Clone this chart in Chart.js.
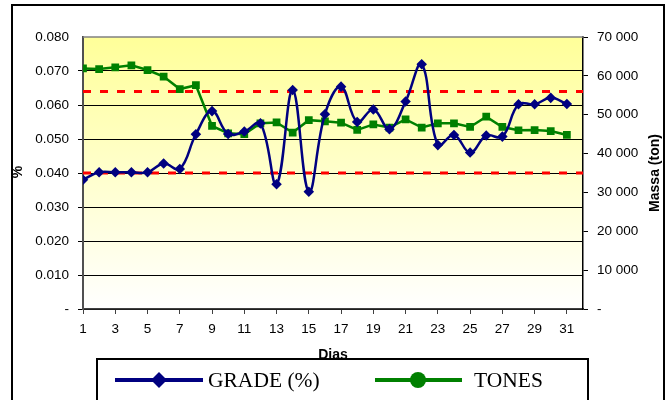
<!DOCTYPE html>
<html>
<head>
<meta charset="utf-8">
<script src="https://cdn.jsdelivr.net/npm/chart.js@4.4.1/dist/chart.umd.min.js"></script>
<style>
  html, body { margin: 0; padding: 0; background: #fff; }
  #wrap { width: 670px; height: 400px; }
</style>
</head>
<body>
<div id="wrap"><canvas id="chart" width="670" height="400"></canvas></div>
<script>
// Days of the month
const days = [1, 2, 3, 4, 5, 6, 7, 8, 9, 10, 11, 12, 13, 14, 15, 16,
              17, 18, 19, 20, 21, 22, 23, 24, 25, 26, 27, 28, 29, 30, 31];

// GRADE (%) - left axis
const grade = [0.0380, 0.0402, 0.0402, 0.0402, 0.0402, 0.0428, 0.0412, 0.0514,
               0.0582, 0.0515, 0.0522, 0.0546, 0.0367, 0.0644, 0.0345, 0.0573,
               0.0654, 0.0550, 0.0587, 0.0529, 0.0610, 0.0720, 0.0482, 0.0512,
               0.0460, 0.0510, 0.0507, 0.0602, 0.0602, 0.0621, 0.0603];

// TONES - right axis (ton)
const tones = [61900, 61750, 62200, 62700, 61500, 59800, 56600, 57600,
               47100, 45200, 45000, 47800, 48000, 45400, 48600, 48300,
               47950, 46100, 47500, 46700, 48800, 46700, 47800, 47800,
               46850, 49500, 46850, 46000, 46050, 45800, 44800];

// Control limits (%)
const limitHigh = 0.064;
const limitLow = 0.040;

const leftTicks = [0, 0.01, 0.02, 0.03, 0.04, 0.05, 0.06, 0.07, 0.08];
const rightTicks = [0, 10000, 20000, 30000, 40000, 50000, 60000, 70000];

const tickFont = { family: 'Liberation Sans, Arial, sans-serif', size: 13.5 };

function toPoints(xs, ys) {
    return xs.map((x, i) => ({ x: x, y: ys[i] }));
}

function spaced(v) {
    return String(v).replace(/\B(?=(\d{3})+(?!\d))/g, ' ');
}

// Background, frame, axis titles and legend box
const decorations = {
    id: 'decorations',
    beforeDraw(chart) {
        const ctx = chart.ctx;
        const a = chart.chartArea;
        ctx.save();
        ctx.fillStyle = '#ffffff';
        ctx.fillRect(0, 0, chart.width, chart.height);
        const g = ctx.createLinearGradient(0, a.top, 0, a.bottom);
        g.addColorStop(0, '#ffff99');
        g.addColorStop(1, '#ffffff');
        ctx.fillStyle = g;
        ctx.fillRect(a.left, a.top, a.right - a.left, a.bottom - a.top);
        ctx.restore();
    },
    afterDraw(chart) {
        const ctx = chart.ctx;
        const a = chart.chartArea;
        ctx.save();

        // top border of plot
        ctx.strokeStyle = '#808080';
        ctx.lineWidth = 1.5;
        ctx.beginPath();
        ctx.moveTo(a.left, a.top);
        ctx.lineTo(a.right, a.top);
        ctx.stroke();

        // outer frame
        ctx.strokeStyle = '#000';
        ctx.lineWidth = 2;
        ctx.strokeRect(12, 5, 652, 400);

        // axis titles
        ctx.fillStyle = '#000';
        ctx.font = 'bold 14px Liberation Sans, Arial, sans-serif';
        ctx.textAlign = 'center';
        ctx.textBaseline = 'middle';
        ctx.fillText('Dias', 333, 355);

        ctx.save();
        ctx.translate(18, 172);
        ctx.rotate(-Math.PI / 2);
        ctx.fillText('%', 0, 0);
        ctx.restore();

        ctx.save();
        ctx.translate(655, 173);
        ctx.rotate(-Math.PI / 2);
        ctx.fillText('Massa (ton)', 0, 0);
        ctx.restore();

        // legend box
        ctx.fillStyle = '#fff';
        ctx.fillRect(97, 359, 491, 45);
        ctx.strokeStyle = '#000';
        ctx.lineWidth = 2;
        ctx.strokeRect(97, 359, 491, 45);

        // GRADE sample
        ctx.strokeStyle = '#000080';
        ctx.lineWidth = 4;
        ctx.beginPath();
        ctx.moveTo(115, 380);
        ctx.lineTo(203, 380);
        ctx.stroke();
        ctx.fillStyle = '#000080';
        ctx.beginPath();
        ctx.moveTo(159, 372);
        ctx.lineTo(167, 380);
        ctx.lineTo(159, 388);
        ctx.lineTo(151, 380);
        ctx.closePath();
        ctx.fill();

        // TONES sample
        ctx.strokeStyle = '#008000';
        ctx.beginPath();
        ctx.moveTo(375, 380);
        ctx.lineTo(462, 380);
        ctx.stroke();
        ctx.fillStyle = '#008000';
        ctx.beginPath();
        ctx.arc(418, 380, 8, 0, Math.PI * 2);
        ctx.fill();

        ctx.fillStyle = '#000';
        ctx.font = '21.5px Liberation Serif, Times New Roman, serif';
        ctx.textAlign = 'left';
        ctx.fillText('GRADE (%)', 208, 381);
        ctx.fillText('TONES', 474, 381);

        ctx.restore();
    }
};

const chart1 = document.getElementById('chart');

new Chart(chart1, {
    type: 'line',
    data: {
        datasets: [
            {
                label: 'GRADE (%)',
                data: toPoints(days, grade),
                yAxisID: 'y',
                borderColor: '#000080',
                backgroundColor: '#000080',
                borderWidth: 2.5,
                tension: 0.4,
                pointStyle: 'rectRot',
                pointRadius: 3.5,
            },
            {
                label: 'TONES',
                data: toPoints(days, tones),
                yAxisID: 'y1',
                borderColor: '#008000',
                backgroundColor: '#008000',
                borderWidth: 2.5,
                tension: 0,
                pointStyle: 'rect',
                pointRadius: 3.7,
            },
            {
                label: 'limitHigh',
                data: [{ x: 1, y: limitHigh }, { x: 32, y: limitHigh }],
                yAxisID: 'y',
                borderColor: '#ff0000',
                borderWidth: 3,
                borderDash: [8, 9],
                pointRadius: 0,
            },
            {
                label: 'limitLow',
                data: [{ x: 1, y: limitLow }, { x: 32, y: limitLow }],
                yAxisID: 'y',
                borderColor: '#ff0000',
                borderWidth: 3,
                borderDash: [8, 9],
                pointRadius: 0,
            },
        ],
    },
    options: {
        responsive: false,
        animation: false,
        events: [],
        layout: { padding: { left: 0, right: 0, top: 37, bottom: 51 } },
        plugins: {
            legend: { display: false },
            tooltip: { enabled: false },
        },
        scales: {
            x: {
                type: 'linear',
                min: 1,
                max: 32,
                afterBuildTicks: (scale) => {
                    scale.ticks = days.filter(d => d % 2 === 1).map(d => ({ value: d }));
                },
                afterFit: (scale) => { scale.height = 40; },
                ticks: { font: tickFont, color: '#000', padding: 7, maxRotation: 0, autoSkip: false },
                grid: { drawOnChartArea: false, tickLength: 5, color: '#404040', lineWidth: 1 },
                border: { color: '#404040', width: 1.5 },
            },
            y: {
                position: 'left',
                min: 0,
                max: 0.08,
                afterBuildTicks: (scale) => {
                    scale.ticks = leftTicks.map(v => ({ value: v }));
                },
                afterFit: (scale) => { scale.width = 83; },
                ticks: {
                    font: tickFont,
                    color: '#000',
                    padding: 9,
                    callback: (v) => (v === 0 ? '-' : v.toFixed(3)),
                },
                grid: {
                    tickLength: 5,
                    lineWidth: 1,
                    color: (c) => (c.tick && c.tick.value === 0.08 ? 'rgba(0,0,0,0)' : '#000'),
                },
                border: { color: '#505050', width: 2 },
            },
            y1: {
                position: 'right',
                min: 0,
                max: 70000,
                afterBuildTicks: (scale) => {
                    scale.ticks = rightTicks.map(v => ({ value: v }));
                },
                afterFit: (scale) => { scale.width = 87; },
                ticks: {
                    font: tickFont,
                    color: '#000',
                    padding: 9,
                    callback: (v) => (v === 0 ? '-' : spaced(v)),
                },
                grid: { drawOnChartArea: false, tickLength: 5, color: '#000' },
                border: { color: '#000', width: 1.5 },
            },
        },
    },
    plugins: [decorations],
});
</script>
</body>
</html>
